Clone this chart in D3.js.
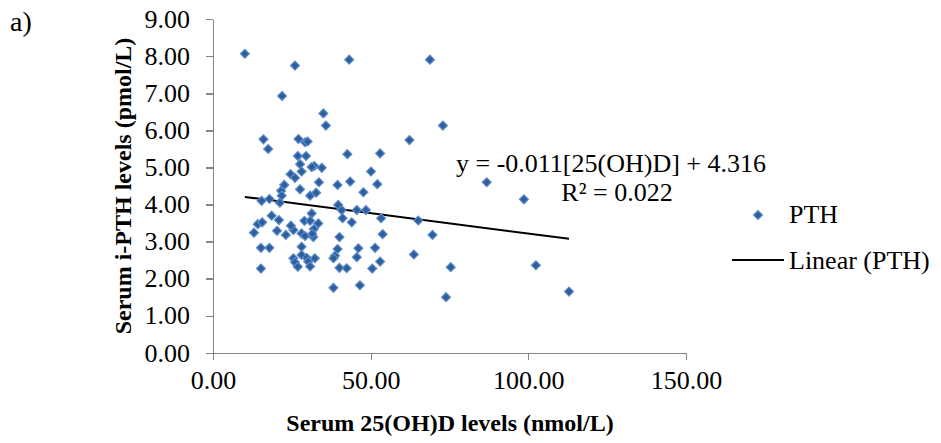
<!DOCTYPE html>
<html>
<head>
    <meta charset="utf-8">
    <title>PTH vs 25(OH)D</title>
    <script src="https://cdn.jsdelivr.net/npm/d3@7/dist/d3.min.js"></script>
    <style type="text/css">
    body {
        margin: 0;
        background: #fff;
    }

    text {
        font-family: "Liberation Serif", "Times New Roman", serif;
        fill: #000;
    }

    .axis path,
    .axis line {
        stroke: #868686;
        stroke-width: 1.3px;
        shape-rendering: crispEdges;
    }

    .axis text {
        font-size: 26px;
    }

    .title {
        font-size: 24px;
        font-weight: bold;
    }

    .marker {
        fill: #2f5e9c;
        stroke: #5b8bcb;
        stroke-width: 1.2px;
    }
    </style>
</head>
<body>
    <div id="chartArea"></div>
    <script>
    // serum 25(OH)D (nmol/L) and i-PTH (pmol/L)
    var vitD = [10.1, 26.0, 43.2, 68.8, 21.9, 35.0, 35.8, 72.9, 16.0, 17.5,
        27.1, 29.2, 30.0, 62.3, 26.9, 29.5, 42.6, 53.0, 27.6, 32.1,
        31.3, 34.5, 28.1, 24.6, 26.0, 50.1, 22.6, 21.6, 27.6, 21.8,
        30.8, 17.9, 33.6, 39.5, 43.5, 52.1, 47.7, 32.7, 86.8, 98.6,
        15.4, 39.7, 40.8, 45.6, 48.5, 53.3, 41.1, 44.0, 31.3, 33.4,
        32.0, 31.8, 40.1, 53.8, 51.4, 39.5, 46.1, 38.7, 38.2, 45.6,
        32.3, 40.1, 42.4, 50.5, 53.0, 38.2, 46.6, 18.6, 20.9, 14.2,
        15.6, 13.0, 20.3, 23.1, 25.5, 24.7, 29.0, 30.8, 28.1, 29.2,
        15.2, 17.9, 28.1, 28.1, 25.5, 26.0, 26.9, 29.7, 30.2, 30.8,
        15.2, 65.1, 69.6, 63.7, 75.4, 73.9, 102.4, 112.9, 21.2, 31.5];
    var pth = [8.07, 7.75, 7.91, 7.91, 6.93, 6.46, 6.13, 6.13, 5.76, 5.50,
        5.77, 5.68, 5.70, 5.74, 5.31, 5.31, 5.36, 5.38, 5.09, 5.04,
        5.01, 4.99, 4.89, 4.82, 4.72, 4.89, 4.53, 4.37, 4.41, 4.24,
        4.24, 4.15, 4.60, 4.53, 4.62, 4.55, 4.33, 4.32, 4.60, 4.14,
        4.10, 3.99, 3.85, 3.85, 3.85, 3.63, 3.63, 3.52, 3.76, 3.49,
        3.34, 3.12, 3.12, 3.20, 2.83, 2.80, 2.82, 2.62, 2.55, 2.58,
        2.55, 2.29, 2.28, 2.27, 2.46, 1.75, 1.82, 3.70, 3.58, 3.47,
        3.52, 3.24, 3.29, 3.18, 3.31, 3.43, 3.56, 3.56, 3.22, 3.15,
        2.83, 2.83, 2.86, 2.64, 2.55, 2.44, 2.32, 2.56, 2.46, 2.33,
        2.27, 3.57, 3.18, 2.65, 2.31, 1.50, 2.36, 1.65, 4.05, 3.21];

    var xTicks = [0, 50, 100, 150],
        yTicks = [0, 1, 2, 3, 4, 5, 6, 7, 8, 9];

    // Excel linear trendline
    var slope = -0.011,
        intercept = 4.316,
        eqText = "y = -0.011[25(OH)D] + 4.316",
        r2Text = "R\u00B2 = 0.022";

    var w = 941,
        h = 443,
        plot = { left: 213, right: 686, top: 19.3, bottom: 352.7 };

    var svg = d3.select('#chartArea').append('svg')
        .attr('width', w)
        .attr('height', h);

    svg.append('rect')
        .attr('width', w)
        .attr('height', h)
        .attr('fill', '#fff');

    var xScale = d3.scaleLinear()
        .domain([0, 150])
        .range([plot.left, plot.right]);

    var yScale = d3.scaleLinear()
        .domain([0, 9])
        .range([plot.bottom, plot.top]);

    var fmt = d3.format('.2f');

    svg.append('g')
        .attr('class', 'axis')
        .attr('transform', 'translate(0,' + plot.bottom + ')')
        .call(d3.axisBottom(xScale).tickValues(xTicks).tickFormat(fmt)
            .tickSize(7).tickSizeOuter(0).tickPadding(11));

    svg.append('g')
        .attr('class', 'axis')
        .attr('transform', 'translate(' + plot.left + ',0)')
        .call(d3.axisLeft(yScale).tickValues(yTicks).tickFormat(fmt)
            .tickSize(7).tickSizeOuter(0).tickPadding(16));

    svg.selectAll('.axis text').attr('fill', '#000');

    // axis titles
    svg.append('text')
        .attr('class', 'title')
        .attr('x', 450)
        .attr('y', 431)
        .attr('text-anchor', 'middle')
        .text('Serum 25(OH)D levels (nmol/L)');

    svg.append('text')
        .attr('class', 'title')
        .attr('transform', 'translate(131,186) rotate(-90)')
        .attr('text-anchor', 'middle')
        .text('Serum i-PTH levels (pmol/L)');

    svg.append('text')
        .attr('x', 10)
        .attr('y', 31)
        .style('font-size', '28px')
        .text('a)');

    // points
    var diamond = d3.symbol().type(d3.symbolSquare).size(40);
    var points = vitD.map(function(v, i) { return { x: v, y: pth[i] }; });

    // trendline over the data range
    var xr = d3.extent(vitD);
    svg.append('line')
        .attr('x1', xScale(xr[0]))
        .attr('y1', yScale(slope * xr[0] + intercept))
        .attr('x2', xScale(xr[1]))
        .attr('y2', yScale(slope * xr[1] + intercept))
        .attr('stroke', '#000')
        .attr('stroke-width', 2);

    svg.selectAll('path.marker')
        .data(points)
        .enter()
        .append('path')
        .attr('class', 'marker')
        .attr('d', diamond)
        .attr('transform', function(d) {
            return 'translate(' + xScale(d.x) + ',' + yScale(d.y) + ') rotate(45)';
        });

    // equation
    svg.append('text')
        .attr('x', 611)
        .attr('y', 172)
        .attr('text-anchor', 'middle')
        .style('font-size', '26px')
        .text(eqText);

    svg.append('text')
        .attr('x', 617)
        .attr('y', 201)
        .attr('text-anchor', 'middle')
        .style('font-size', '26px')
        .text(r2Text);

    // legend
    var legend = svg.append('g');
    legend.append('path')
        .attr('class', 'marker')
        .attr('d', diamond)
        .attr('transform', 'translate(758,215) rotate(45)');
    legend.append('text')
        .attr('x', 789)
        .attr('y', 223)
        .style('font-size', '26px')
        .text('PTH');
    legend.append('line')
        .attr('x1', 732)
        .attr('x2', 784)
        .attr('y1', 260)
        .attr('y2', 260)
        .attr('stroke', '#000')
        .attr('stroke-width', 2);
    legend.append('text')
        .attr('x', 789)
        .attr('y', 269)
        .style('font-size', '26px')
        .text('Linear (PTH)');
    </script>
</body>
</html>
